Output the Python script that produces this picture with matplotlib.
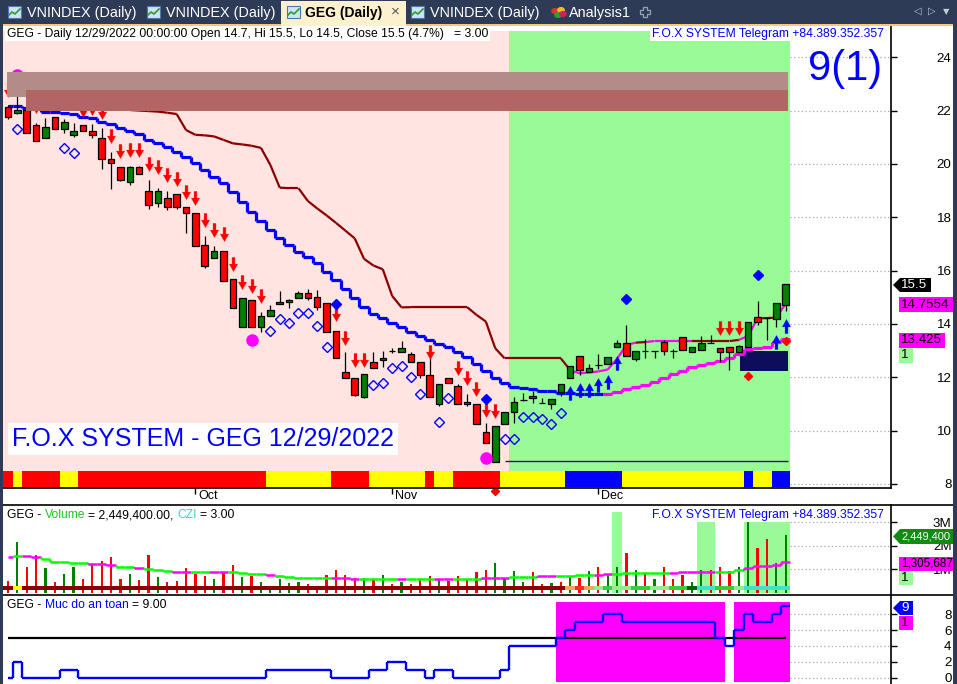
import numpy as np
import pandas as pd
import matplotlib
matplotlib.use("Agg")
import matplotlib.pyplot as plt
from matplotlib.path import Path
from matplotlib.patches import Rectangle, Polygon
from matplotlib.collections import LineCollection
from matplotlib.lines import Line2D
from matplotlib.transforms import ScaledTranslation

plt.rcParams['font.family'] = ['Liberation Sans', 'DejaVu Sans']

W, H = 957, 684

# ---------------- data ----------------
dates = pd.bdate_range("2022-09-05", "2022-12-29")   # 84 sessions

opens = [22.15, 21.90, 22.02, 21.46, 20.96, 21.75, 21.30, 21.08, 21.45, 21.22,
         20.96, 20.17, 19.87, 19.34, 19.87, 18.97, 18.52, 18.71, 18.86, 18.37,
         18.15, 16.96, 16.47, 16.75, 15.67, 13.88, 14.90, 13.88, 14.30, 14.75,
         14.81, 14.96, 15.16, 15.00, 14.78, 13.74, 12.19, 11.96, 11.27, 12.56,
         12.64, 12.99, 12.96, 12.86, 12.56, 12.09, 10.99, 11.99, 11.67, 11.06,
         11.00, 9.96, 8.84, 10.24, 10.71, 11.15, 11.31, 11.05, 11.00, 11.46,
         11.96, 12.80, 12.19, 12.46, 12.49, 13.15, 13.28, 12.68, 12.99, 12.99,
         13.31, 12.99, 13.52, 12.96, 13.01, 13.28, 13.09, 13.15, 12.96, 13.15,
         14.27, 14.21, 14.18, 14.70]
highs = [22.20, 22.55, 22.05, 21.52, 21.71, 21.75, 21.67, 21.52, 21.45, 21.50,
         21.35, 20.44, 19.87, 19.92, 19.92, 19.40, 19.10, 18.97, 18.86, 18.37,
         18.15, 17.30, 16.92, 16.75, 15.67, 14.96, 14.90, 14.46, 14.70, 15.24,
         14.95, 15.25, 15.30, 15.27, 14.78, 13.74, 12.96, 11.96, 12.11, 12.95,
         12.98, 13.10, 13.37, 12.95, 12.56, 12.84, 11.74, 11.99, 11.75, 11.39,
         11.00, 10.30, 10.17, 10.69, 11.27, 11.40, 11.50, 11.24, 11.19, 11.74,
         12.42, 12.80, 12.50, 12.86, 12.77, 13.40, 13.96, 12.99, 13.43, 12.99,
         13.40, 13.05, 13.52, 13.13, 13.55, 13.58, 13.09, 13.15, 13.20, 14.06,
         14.86, 14.21, 14.78, 15.50]
lows = [21.69, 21.86, 21.15, 20.84, 20.96, 21.30, 21.17, 21.00, 21.22, 20.97,
        19.82, 19.07, 19.36, 19.20, 19.61, 18.30, 18.40, 18.26, 18.30, 17.40,
        16.92, 16.09, 16.47, 15.61, 14.59, 13.88, 13.90, 13.71, 14.30, 14.75,
        14.60, 14.96, 14.90, 14.52, 13.69, 12.71, 11.96, 11.30, 11.22, 12.34,
        12.40, 12.90, 12.96, 12.56, 11.96, 11.27, 10.91, 11.78, 10.99, 10.91,
        10.24, 9.53, 8.84, 10.24, 10.27, 11.12, 11.05, 11.02, 10.80, 11.30,
        11.96, 12.10, 12.19, 12.30, 12.49, 13.15, 12.80, 12.60, 12.71, 12.72,
        12.85, 12.72, 13.02, 12.96, 13.01, 13.28, 12.56, 12.27, 12.96, 13.15,
        13.96, 13.40, 13.90, 14.50]
closes = [21.75, 22.02, 21.15, 20.84, 21.37, 21.30, 21.56, 21.25, 21.22, 21.08,
          20.17, 20.05, 19.41, 19.87, 19.61, 18.45, 18.97, 18.40, 18.37, 18.15,
          16.92, 16.17, 16.75, 15.61, 14.59, 14.96, 13.90, 14.30, 14.52, 14.84,
          14.90, 15.16, 14.96, 14.65, 13.69, 12.71, 11.96, 11.34, 12.11, 12.34,
          12.71, 12.99, 13.09, 12.56, 12.09, 11.27, 11.74, 11.78, 10.99, 10.99,
          10.24, 9.53, 10.17, 10.69, 11.06, 11.15, 11.24, 11.05, 11.19, 11.74,
          12.42, 12.27, 12.34, 12.46, 12.77, 13.28, 12.80, 12.99, 12.99, 12.99,
          12.99, 12.99, 13.02, 13.13, 13.28, 13.28, 12.96, 12.96, 13.17, 14.06,
          14.06, 14.21, 14.78, 15.50]

# stepped trailing line under price (b = blue while falling, m = magenta once it turns up)
trail_low = [22.18, 22.18, 22.09, 22.09, 21.96, 21.96, 21.92, 21.86, 21.77, 21.71,
             21.58, 21.49, 21.34, 21.25, 21.12, 20.90, 20.77, 20.65, 20.46, 20.27,
             20.05, 19.77, 19.52, 19.27, 18.94, 18.59, 18.21, 17.87, 17.52, 17.24,
             16.96, 16.71, 16.52, 16.28, 15.96, 15.65, 15.30, 14.96, 14.65, 14.37,
             14.21, 14.03, 13.88, 13.71, 13.55, 13.40, 13.25, 13.13, 12.94, 12.75,
             12.50, 12.24, 11.99, 11.78, 11.65, 11.59, 11.55, 11.50, 11.50, 11.42,
             11.40, 11.37, 11.36, 11.36, 11.37, 11.46, 11.55, 11.65, 11.71, 11.84,
             11.96, 12.12, 12.25, 12.38, 12.46, 12.55, 12.61, 12.71, 12.87, 13.05,
             13.11, 13.15, 13.34, 13.425]
trail_low_state = ("bbbbbbbbbb" "bbbbbbbbbb" "bbbbbbbbbb" "bbbbbbbbbb" "bbbbbbbbbb"
                   "bbbbbbbbbb" "bbbbmmmmmm" "mmmmmmmmmm" "mmmm")

# slower line above price (d = dark red, m = magenta)
nan = np.nan
trail_high = [nan, nan, nan, nan, nan, nan, nan, nan, nan, nan,
              nan, nan, nan, 22.02, 22.00, 21.98, 21.96, 21.92, 21.87, 21.27,
              21.09, 21.07, 21.03, 20.90, 20.77, 20.73, 20.68, 20.60, 19.96, 19.11,
              19.09, 19.09, 18.61, 18.33, 18.07, 17.79, 17.50, 17.21, 16.44, 16.19,
              16.05, 15.05, 14.62, 14.63, 14.63, 14.63, 14.63, 14.63, 14.63, 14.63,
              14.34, 14.09, 13.09, 12.71, 12.71, 12.71, 12.71, 12.71, 12.71, 12.71,
              12.27, 12.15, 12.18, 12.22, 12.29, 12.69, 13.21, 13.30, 13.32, 13.36,
              13.36, 13.36, 13.36, 13.36, 13.36, 13.36, 13.36, 13.36, 13.40, 13.55,
              14.21, 14.22, 14.24, 14.7554]
trail_high_state = ("dddddddddd" "dddddddddd" "dddddddddd" "dddddddddd" "dddddddddd"
                    "dddddddddd" "dmmmmmmmdm" "mmmmdddddm" "mddm")

# signal markers: (bar, price)
sell_arrows = [(0, 22.77), (3, 22.17), (8, 22.03), (9, 22.10), (10, 21.95), (11, 21.04),
               (12, 20.49), (13, 20.51), (14, 20.51), (15, 19.98), (16, 19.89), (17, 19.60),
               (18, 19.42), (19, 18.94), (20, 18.72), (21, 17.88), (22, 17.51), (23, 17.36),
               (24, 16.25), (25, 15.56), (26, 15.44), (27, 15.04), (35, 14.36), (36, 13.47),
               (37, 12.66), (38, 12.66), (45, 12.95), (48, 12.34), (49, 11.99), (50, 11.56),
               (51, 10.79), (52, 10.74), (76, 13.85), (77, 13.85), (78, 13.85)]
buy_arrows = [(60, 11.43), (61, 11.52), (62, 11.54), (63, 11.73), (64, 11.82),
              (65, 12.54), (82, 13.31), (83, 13.94)]
blue_dots = [(35, 14.74), (51, 11.19), (66, 14.94), (80, 15.84)]
open_diamonds = [(1, 21.31), (6, 20.61), (7, 20.42), (28, 13.75), (29, 14.19), (30, 14.05),
                 (31, 14.42), (32, 14.42), (33, 13.93), (34, 13.15), (39, 11.71), (40, 11.80),
                 (41, 12.33), (42, 12.42), (43, 12.02), (44, 11.37), (46, 10.34), (47, 11.24),
                 (53, 9.69), (54, 9.69), (55, 10.52), (56, 10.52), (57, 10.44), (58, 10.24),
                 (59, 10.67)]
magenta_dots = [(1, 23.32), (26, 13.40), (51, 8.97)]
red_dots = [(79, 12.05), (83, 13.37), (52, 7.75)]

# zones (price ranges)
zone_light = (22.52, 23.46)
zone_dark = (22.00, 22.77)
box_zone = (12.25, 12.99)
support_level = 8.86

# bottom ribbon of the price pane: R red, Y yellow, B blue
trend_ribbon = ("RYRRRRYY" "RRRRRRRRRRRRRRRRRRRR" "YYYYYYY" "RRRR" "YYYYYY" "R" "YY"
                "RRRRR" "YYYYYYY" "BBBBBB" "YYYYYYYYYYYYY" "B" "YY" "BB")

# volume pane (millions of shares)
volume = [0.50, 2.17, 1.11, 1.61, 1.04, 0.47, 0.80, 1.11, 0.59, 1.18,
          1.35, 1.54, 0.59, 0.80, 0.54, 1.61, 0.67, 0.47, 0.52, 1.04,
          0.80, 0.71, 0.59, 0.90, 1.18, 0.66, 0.71, 0.47, 0.25, 0.59,
          0.43, 0.47, 0.37, 0.26, 0.76, 0.97, 0.76, 0.62, 0.62, 0.54,
          0.76, 0.37, 0.45, 0.37, 0.54, 0.71, 0.59, 0.52, 0.71, 0.54,
          0.90, 0.97, 1.25, 0.59, 0.93, 0.46, 0.88, 0.36, 0.40, 0.48,
          0.69, 0.62, 0.93, 1.08, 0.76, 1.08, 1.68, 0.97, 0.83, 0.59,
          1.08, 0.59, 0.76, 0.46, 0.97, 0.97, 1.08, 0.93, 1.08, 3.02,
          1.89, 2.28, 1.25, 2.4494]
volume_dir = ("rgrrgrggrr" "rrrgrrgrrr" "rrgrrgrggg" "ggrrrrrrgr" "grgrrrgrrr"
              "rrggggrrgr" "grgrggrgrg" "rrrggrrrgg" "rrgg")
volume_ma = [1.54, 1.55, 1.55, 1.52, 1.45, 1.33, 1.31, 1.28, 1.26, 1.22,
             1.21, 1.19, 1.11, 1.08, 1.04, 1.02, 0.98, 0.94, 0.90, 0.90,
             0.90, 0.90, 0.90, 0.90, 0.88, 0.83, 0.81, 0.79, 0.76, 0.70,
             0.66, 0.64, 0.62, 0.64, 0.64, 0.62, 0.62, 0.60, 0.59, 0.59,
             0.59, 0.59, 0.59, 0.59, 0.59, 0.59, 0.59, 0.59, 0.59, 0.59,
             0.59, 0.62, 0.62, 0.65, 0.69, 0.69, 0.69, 0.70, 0.70, 0.70,
             0.72, 0.74, 0.76, 0.76, 0.78, 0.80, 0.83, 0.83, 0.83, 0.83,
             0.83, 0.83, 0.87, 0.90, 0.90, 0.90, 0.90, 0.90, 0.95, 1.05,
             1.12, 1.16, 1.20, 1.305687]
volume_ma_state = ("mgmmgggggm" "mmggmgggmm" "ggmmggggmg" "gggggmmmgg" "ggmgggmmgg"
                   "gmmmgggmmg" "gggmmggggg" "gmmmmmgggm" "mmmm")
vol_ribbon = ("dydddddddd" "dddddddddd" "dddddddddd" "dddddddddd" "dddddddddd"
              "dddddddddd" "orolgllggl" "lggkttggltt" "ttt")
vol_mark_idx = [65, 74, 75, 79, 80, 81, 82, 83]
vol_mark_top = [3.45, 3.0, 3.0, 3.0, 3.0, 3.0, 3.0, 3.0]

# safety level pane ("Muc do an toan")
safety = [0, 2, 0, 0, 0, 0, 1, 1, 0, 0,
          0, 0, 0, 0, 0, 0, 0, 0, 0, 0,
          0, 0, 0, 0, 0, 0, 0, 0, 1, 1,
          1, 1, 1, 1, 1, 0, 0, 0, 0, 1,
          1, 2, 2, 1, 1, 0, 1, 1, 0, 0,
          0, 0, 0, 1, 4, 4, 4, 4, 4, 5,
          6, 7, 7, 7, 8, 8, 7, 7, 7, 7,
          7, 7, 7, 7, 7, 7, 5, 4, 6, 8,
          7, 7, 8, 9]
safety_ref = 5

# ---------------- layout helpers (pixel coords of the screenshot) ----------------
def fx(x):
    return x / W

def fy(y):
    return 1 - y / H

fig = plt.figure(figsize=(W / 100, H / 100), dpi=100)
fig.patch.set_facecolor('white')

def add_ax(x0, y0, x1, y1):
    return fig.add_axes([fx(x0), fy(y1), (x1 - x0) / W, (y1 - y0) / H])

n = len(closes)
x = np.arange(n)
XLIM = (-0.534, 94.24)

ax = add_ax(3, 26, 891, 488)
axv = add_ax(3, 505, 891, 595)
axs = add_ax(3, 596, 891, 684)

for a in (ax, axv, axs):
    a.set_xlim(*XLIM)
    a.patch.set_alpha(0)
    for s in ('top', 'left', 'bottom'):
        a.spines[s].set_visible(False)
    a.spines['right'].set_linewidth(1.2)
    a.yaxis.tick_right()
    a.tick_params(axis='y', direction='out', length=4, width=1, labelsize=9.6, pad=39.6)

ax.set_ylim(7.85, 25.17)
axv.set_ylim(-0.094, 3.736)
axs.set_ylim(-0.79, 10.28)

COL = {'R': '#ff0000', 'Y': '#ffff00', 'B': '#0000ff',
       'd': '#8b0000', 'y': '#ffff00', 'o': '#ffa060', 'r': '#ff2a2a', 'l': '#90ee90',
       'g': '#3acd3a', 'k': '#006400', 't': '#40e0d0'}


def steps(a, vals, states, cmap, lw, z):
    segs, cols = [], []
    for i, v in enumerate(vals):
        left = i - 0.5 if i > 0 else i
        segs.append([(left, v), (i + 0.5, v)])
        cols.append(cmap[states[i]])
        if i + 1 < len(vals):
            segs.append([(i + 0.5, v), (i + 0.5, vals[i + 1])])
            cols.append(cmap[states[i + 1]])
    a.add_collection(LineCollection(segs, colors=cols, linewidths=lw, zorder=z,
                                    capstyle='butt'))


# ---------------- price pane ----------------
yt = [8, 10, 12, 14, 16, 18, 20, 22, 24]
ax.set_yticks(yt)
for lb in ax.get_yticklabels():
    lb.set_ha('right')
ax.hlines(yt, 83.5, XLIM[1], colors='#a8a8a8', linestyles=(0, (1, 2)), lw=0.9, zorder=0)

ax.add_patch(Rectangle((-0.5, 7.85), 54, 25.0 - 7.85, facecolor='#ffe4e1', edgecolor='none', zorder=1))
ax.add_patch(Rectangle((53.5, 7.85), 30, 25.0 - 7.85, facecolor='#98fb98', edgecolor='none', zorder=1))
ax.bar(x, 0.6, bottom=7.89, width=1.0, color=[COL[k] for k in trend_ribbon], zorder=2)

ax.hlines(support_level, 53, 83.2, color='#1a1a6e', lw=1.0, zorder=3)
ax.add_patch(Rectangle((78.1, box_zone[0]), 5.1, box_zone[1] - box_zone[0],
                       facecolor='#0d0d5c', edgecolor='none', zorder=3.5))

steps(ax, trail_low, trail_low_state, {'b': '#0000ff', 'm': '#ff00ff'}, 2.3, 4)

th = np.array(trail_high)
segs, cols = [], []
for i in range(1, n):
    if np.isnan(th[i - 1]) or np.isnan(th[i]):
        continue
    segs.append([(i - 1, th[i - 1]), (i, th[i])])
    cols.append('#ff00ff' if trail_high_state[i] == 'm' else '#8b0000')
ax.add_collection(LineCollection(segs, colors=cols, linewidths=1.6, zorder=4))

o = np.array(opens)
c = np.array(closes)
up = c >= o
ax.vlines(x, lows, highs, color='black', lw=0.9, zorder=5)
ax.bar(x, np.abs(c - o), bottom=np.minimum(o, c), width=0.7,
       color=np.where(up, '#008000', '#ff0000'), edgecolor='black', linewidth=0.9, zorder=5.5)

down_path = Path([(-0.2, 1), (0.2, 1), (0.2, 0.05), (0.58, 0.05), (0, -1),
                  (-0.58, 0.05), (-0.2, 0.05), (-0.2, 1)], closed=True)
up_path = Path([(-0.2, -1), (0.2, -1), (0.2, -0.05), (0.58, -0.05), (0, 1),
                (-0.58, -0.05), (-0.2, -0.05), (-0.2, -1)], closed=True)

def pts(lst):
    return [p[0] for p in lst], [p[1] for p in lst]

ax.plot(*pts(sell_arrows), ls='none', marker=down_path, ms=10, color='#ff0000', mew=0.3, zorder=6)
ax.plot(*pts(buy_arrows), ls='none', marker=up_path, ms=10, color='#0000ff', mew=0.3, zorder=6)
ax.plot(*pts(blue_dots), ls='none', marker='D', ms=5, color='#0000ff', zorder=6)
ax.plot(*pts(open_diamonds), ls='none', marker='D', ms=4.6, mfc='none', mec='#0000ff', mew=1.0, zorder=6)
ax.plot(*pts(magenta_dots), ls='none', marker='o', ms=8, color='#ff00ff', zorder=6)
ax.plot(*pts(red_dots), ls='none', marker='D', ms=4.5, color='#ff0000', zorder=6, clip_on=False)

ax.add_patch(Rectangle((-0.1, zone_light[0]), 83.3, zone_light[1] - zone_light[0],
                       facecolor='#b38b89', edgecolor='none', zorder=7))
ax.add_patch(Rectangle((1.92, zone_dark[0]), 81.28, zone_dark[1] - zone_dark[0],
                       facecolor='#b36464', edgecolor='none', zorder=7.1))

# month ticks
month_pos = [i for i in range(1, n) if dates[i].month != dates[i - 1].month]
ax.set_xticks(month_pos)
ax.set_xticklabels([dates[i].strftime('%b') for i in month_pos], fontsize=9)
ax.tick_params(axis='x', direction='out', length=4.5, width=1, pad=-2.8)
for lb in ax.get_xticklabels():
    lb.set_ha('left')
    lb.set_transform(lb.get_transform() + ScaledTranslation(2 / 72, 0, fig.dpi_scale_trans))

# ---------------- volume pane ----------------
axv.set_yticks([1, 2, 3])
axv.set_yticklabels(['1M', '2M', '3M'])
for lb in axv.get_yticklabels():
    lb.set_ha('right')
axv.set_xticks([])
axv.hlines([1, 2, 3], 83.5, XLIM[1], colors='#a8a8a8', linestyles=(0, (1, 2)), lw=0.9, zorder=0)
axv.bar(vol_mark_idx, vol_mark_top, width=1.0, bottom=0, color='#98fb98', zorder=1)
axv.bar(x, volume, width=0.24, color=np.where(np.array(list(volume_dir)) == 'g', '#008000', '#ff0000'),
        zorder=2)
axv.bar(x, 0.17, bottom=0.12, width=1.0, color=[COL[k] for k in vol_ribbon], zorder=3)
steps(axv, volume_ma, volume_ma_state, {'g': '#00ff00', 'm': '#ff00ff'}, 1.8, 4)

# ---------------- safety pane ----------------
axs.set_yticks([0, 2, 4, 6, 8])
for lb in axs.get_yticklabels():
    lb.set_ha('right')
axs.set_xticks([])
axs.hlines([0, 2, 4, 6, 8], 83.5, XLIM[1], colors='#a8a8a8', linestyles=(0, (1, 2)), lw=0.9, zorder=0)
sv = np.array(safety)
axs.bar(x[sv >= safety_ref], 10.07, bottom=-0.59, width=1.0, color='#ff00ff', zorder=1)
axs.hlines(safety_ref, 0, n - 1, color='black', lw=1.6, zorder=2)
steps(axs, safety, "b" * n, {'b': '#0000ff'}, 1.7, 3)

# ---------------- frame, tabs and texts ----------------
def frect(x0, y0, x1, y1, color, z=1):
    fig.patches.append(Rectangle((fx(x0), fy(y1)), (x1 - x0) / W, (y1 - y0) / H,
                                 transform=fig.transFigure, facecolor=color, edgecolor='none', zorder=z))

def fline(x0, y0, x1, y1, color='black', lw=1.2):
    fig.lines.append(Line2D([fx(x0), fx(x1)], [fy(y0), fy(y1)], transform=fig.transFigure,
                            color=color, lw=lw, zorder=4))

frect(0, 0, W, 24, '#2d3b57')
frect(0, 24, W, 26, '#f3c97a')
frect(0, 24, 3, H, '#2d3b57', z=8)
frect(953, 24, W, H, '#2d3b57', z=8)
frect(281, 1, 406, 26, '#fcf1cf', z=1.5)
fline(3, 488, 891, 488)
fline(3, 505, 953, 505)
fline(3, 595, 953, 595)

def chart_icon(x0):
    frect(x0, 6, x0 + 13, 18, '#cfe3f7', z=2)
    fig.lines.append(Line2D([fx(x0 + 1), fx(x0 + 4), fx(x0 + 7), fx(x0 + 12)],
                            [fy(15), fy(12), fy(14), fy(9)], transform=fig.transFigure,
                            color='#2f9b2f', lw=1.2, zorder=3))
    fig.patches.append(Rectangle((fx(x0), fy(18)), 13 / W, 12 / H, transform=fig.transFigure,
                                 facecolor='none', edgecolor='#4b78b0', lw=0.8, zorder=3))

tab_kw = dict(fontsize=10.4, va='center', ha='left')
for ix, tx in ((8, 27), (147, 166), (411, 430)):
    chart_icon(ix)
    fig.text(fx(tx), fy(12.5), 'VNINDEX (Daily)', color='white', **tab_kw)
chart_icon(287)
fig.text(fx(305), fy(12.5), 'GEG (Daily)', color='black', fontweight='bold', fontsize=10,
         va='center', ha='left')
fig.text(fx(395), fy(12), '\u00d7', color='#555555', fontsize=11, va='center', ha='center')
for cx, cy, cc in ((555, 11, '#e03030'), (561, 10, '#e8c020'), (558, 15, '#30a030'), (563, 14, '#d02060')):
    fig.patches.append(plt.Circle((fx(cx), fy(cy)), 3.2 / W, transform=fig.transFigure,
                                  color=cc, zorder=3))
fig.text(fx(569), fy(12.5), 'Analysis1', color='white', **tab_kw)
fig.patches.append(Polygon([(fx(a), fy(b)) for a, b in
                            ((643, 7), (647, 7), (647, 10), (650, 10), (650, 14), (647, 14), (647, 17),
                             (643, 17), (643, 14), (640, 14), (640, 10), (643, 10))],
                           closed=True, transform=fig.transFigure, facecolor='none',
                           edgecolor='#9aa3b5', lw=0.9, zorder=3))
fig.text(fx(918), fy(11), '\u25c1', color='#c8ccd6', fontsize=7, va='center', ha='center',
         family='DejaVu Sans')
fig.text(fx(932), fy(11), '\u25b7', color='#c8ccd6', fontsize=7, va='center', ha='center',
         family='DejaVu Sans')
fig.text(fx(946), fy(12), '\u25bc', color='#c8ccd6', fontsize=6, va='center', ha='center',
         family='DejaVu Sans')

TS = 8.75
white_box = dict(facecolor='white', edgecolor='none', pad=1.2)
fig.text(fx(7), fy(33.5), 'GEG - Daily 12/29/2022 00:00:00 Open 14.7, Hi 15.5, Lo 14.5, '
         'Close 15.5 (4.7%)   = 3.00', fontsize=TS, va='center', ha='left', bbox=white_box, zorder=5)
fig.text(fx(884), fy(33.5), 'F.O.X SYSTEM Telegram +84.389.352.357', color='#0000ff', fontsize=TS,
         va='center', ha='right', bbox=white_box, zorder=5)
fig.text(fx(884), fy(515), 'F.O.X SYSTEM Telegram +84.389.352.357', color='#0000ff', fontsize=TS,
         va='center', ha='right', zorder=5)
fig.text(fx(808), fy(69), '9(1)', color='#0000ff', fontsize=30, va='center', ha='left', zorder=5)
fig.text(fx(12), fy(439), 'F.O.X SYSTEM - GEG 12/29/2022', color='#0000ff', fontsize=18,
         va='center', ha='left', zorder=5,
         bbox=dict(facecolor='white', edgecolor='none', pad=3))

renderer = fig.canvas.get_renderer()

def text_w(s, size):
    t = fig.text(0, 0, s + '|', fontsize=size)
    w1 = t.get_window_extent(renderer).width
    t.set_text('|')
    w2 = t.get_window_extent(renderer).width
    t.remove()
    return w1 - w2

def colored_text(x0, y, parts, size=TS):
    prefix = ''
    for s, col in parts:
        lead = s[:len(s) - len(s.lstrip())]
        xx = x0 + text_w(prefix + lead, size) if prefix + lead else x0
        fig.text(fx(xx), fy(y), s.lstrip(), color=col, fontsize=size, va='center', ha='left', zorder=5)
        prefix += s

colored_text(7, 515, [('GEG - ', 'black'), ('Volume', '#22c322'), (' = 2,449,400.00, ', 'black'),
                      ('CZI', '#3cd2d2'), (' = 3.00', 'black')])
colored_text(7, 605, [('GEG - ', 'black'), ('Muc do an toan', '#0000ff'), (' = 9.00', 'black')])

def tag(x0, x1, y0, y1, text, fc, tc, pointer=False, size=9.6):
    if pointer:
        p = [(x0, (y0 + y1) / 2), (x0 + 7, y0), (x1, y0), (x1, y1), (x0 + 7, y1)]
        tx = x0 + 8
    else:
        p = [(x0, y0), (x1, y0), (x1, y1), (x0, y1)]
        tx = x0 + 2
    fig.patches.append(Polygon([(fx(a), fy(b)) for a, b in p], closed=True, transform=fig.transFigure,
                               facecolor=fc, edgecolor='none', zorder=4))
    fig.text(fx(tx), fy((y0 + y1) / 2), text, color=tc, fontsize=size, va='center', ha='left', zorder=5)

tag(893, 931, 278, 292, f'{closes[-1]:g}', 'black', 'white', pointer=True)
tag(899, 953, 297, 312, f'{trail_high[-1]:g}', '#ff00ff', 'black')
tag(899, 945, 333, 348, f'{trail_low[-1]:g}', '#ff00ff', 'black')
tag(899, 913, 348, 363, '1', '#98fb98', 'black')
tag(893, 953, 529, 544, f'{volume[-1] * 1e6:,.0f}', '#138a13', 'white', pointer=True, size=8.0)
tag(899, 953, 557, 571, f'{volume_ma[-1] * 1e6:,.0f}', '#ff00ff', 'black', size=8.4)
tag(899, 913, 571, 585, '1', '#98fb98', 'black')
tag(893, 913, 601, 615, f'{safety[-1]}', '#0000ff', 'white', pointer=True)
tag(899, 913, 616, 630, '1', '#ff00ff', '#400000')

fig.savefig('out.png', dpi=100)
